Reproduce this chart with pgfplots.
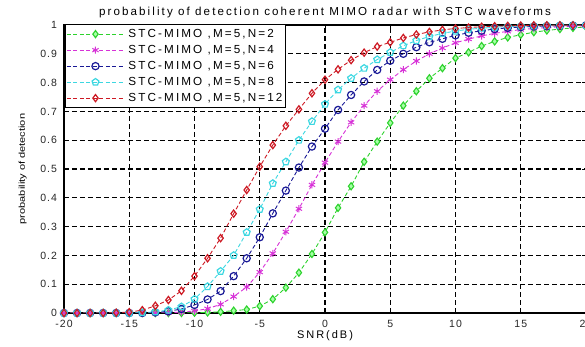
\documentclass[border=0pt]{standalone}
\usepackage{fontspec}
\usepackage{graphicx}
\setmainfont{Liberation Sans}[LetterSpace=18]
\newfontfamily\tickfont{Liberation Sans}[LetterSpace=10]
\newfontfamily\ylabfont{Liberation Sans}
\usepackage{pgfplots}
\usepackage{pgfplotstable}
\pgfplotsset{compat=1.18}
\definecolor{cgreen}{RGB}{45,210,45}
\definecolor{cmag}{RGB}{215,50,215}
\definecolor{cblue}{RGB}{25,25,150}
\definecolor{ccyan}{RGB}{60,215,225}
\definecolor{cred}{RGB}{205,25,35}
\pgfplotstableread{
x g m b c r
-20 0 0 0 0 0
-19 0 0 0 0 0
-18 0 0 0 0 0
-17 0 0 0 0 0
-16 0 0 0 0 0.001
-15 0 0 0 0 0.003
-14 0 0 0 0.001 0.010
-13 0 0 0.002 0.004 0.025
-12 0 0.001 0.006 0.010 0.045
-11 0 0.003 0.014 0.022 0.077
-10 0.001 0.007 0.028 0.048 0.128
-9 0.002 0.015 0.047 0.092 0.190
-8 0.004 0.030 0.076 0.145 0.260
-7 0.008 0.057 0.128 0.200 0.345
-6 0.012 0.090 0.190 0.280 0.427
-5 0.024 0.142 0.263 0.360 0.508
-4 0.048 0.207 0.346 0.450 0.583
-3 0.088 0.282 0.425 0.525 0.650
-2 0.140 0.362 0.505 0.600 0.707
-1 0.205 0.445 0.578 0.665 0.763
0 0.280 0.522 0.640 0.725 0.810
1 0.365 0.595 0.705 0.775 0.846
2 0.440 0.662 0.757 0.815 0.878
3 0.525 0.720 0.804 0.850 0.904
4 0.595 0.770 0.844 0.880 0.925
5 0.660 0.810 0.876 0.905 0.940
6 0.720 0.845 0.900 0.928 0.955
7 0.770 0.875 0.923 0.946 0.967
8 0.815 0.900 0.940 0.960 0.976
9 0.850 0.920 0.952 0.971 0.983
10 0.885 0.938 0.964 0.979 0.988
11 0.905 0.951 0.973 0.985 0.991
12 0.927 0.962 0.980 0.989 0.994
13 0.943 0.971 0.986 0.992 0.996
14 0.957 0.978 0.990 0.995 0.997
15 0.966 0.984 0.993 0.996 0.998
16 0.975 0.988 0.995 0.997 0.999
17 0.981 0.991 0.996 0.998 0.999
18 0.986 0.994 0.997 0.999 0.999
19 0.990 0.996 0.998 0.999 0.999
20 0.993 0.997 0.999 0.999 0.999
}\datatable
\begin{document}
\begin{tikzpicture}
\begin{axis}[
  at={(0,0)}, anchor=south west,
  scale only axis, width=522bp, height=288bp,
  xmin=-20, xmax=20, ymin=0, ymax=1,
  xtick={-20,-15,-10,-5,0,5,10,15,20},
  xticklabels={-20,-15,-10,-5,0,5,10,15,20},
  ytick={0,0.1,0.2,0.3,0.4,0.5,0.6,0.7,0.8,0.9,1},
  yticklabels={0,0.1,0.2,0.3,0.4,0.5,0.6,0.7,0.8,0.9,1},
  tick align=inside, major tick length=4bp,
  tick style={black, line width=0.8bp},
  ticklabel style={font=\tickfont\fontsize{10.5bp}{12bp}\selectfont, text=black!85},
  yticklabel style={xshift=-3.5bp},
  xticklabel style={yshift=-3.5bp},
  grid=major,
  major grid style={black, line width=1.1bp, dash pattern=on 5bp off 3bp},
  axis line style={black, line width=1.2bp},
  title={probability of detection coherent MIMO radar with STC waveforms},
  every axis title/.style={at={(axis description cs:0.5,1)}, anchor=base, yshift=9bp, font=\fontsize{11.6bp}{13bp}\selectfont},
  xlabel={SNR(dB)},
  xlabel style={font=\fontsize{11bp}{12bp}\selectfont, at={(axis description cs:0.5,-0.08)}, anchor=center},
  ylabel={\scalebox{1.3}[1]{\ylabfont\fontsize{8.5bp}{10bp}\selectfont probability of detection}},
  ylabel style={at={(axis description cs:-0.079,0.5)}, anchor=center},
  legend cell align=left,
  legend image code/.code={\draw[mark repeat=2,mark phase=2] plot coordinates {(0bp,0bp)(28.5bp,0bp)(57bp,0bp)};},
  legend style={at={(axis description cs:0.002,1.003)}, anchor=north west, draw=black, line width=1bp, fill=white,
    font=\fontsize{11.7bp}{13bp}\selectfont, inner xsep=1bp, inner ysep=3.5bp, row sep=4bp, column sep=1.5bp,
    nodes={inner xsep=2.5bp, inner ysep=0bp, text height=9bp, text depth=3bp}},
  every axis plot/.append style={line width=0.9bp, dash pattern=on 4bp off 2.5bp, mark size=3.6bp},
]
\addplot[color=cgreen, mark=diamond*, mark options={solid, fill=green!35, line width=1.1bp}] table[x=x,y=g]{\datatable};
\addlegendentry{STC-MIMO ,M=5,N=2}
\addplot[color=cmag, mark=asterisk, mark options={solid, line width=1bp}] table[x=x,y=m]{\datatable};
\addlegendentry{STC-MIMO ,M=5,N=4}
\addplot[color=cblue, mark=o, mark options={solid, line width=1.2bp}] table[x=x,y=b]{\datatable};
\addlegendentry{STC-MIMO ,M=5,N=6}
\addplot[color=ccyan, mark=pentagon, mark options={solid, line width=1.2bp}] table[x=x,y=c]{\datatable};
\addlegendentry{STC-MIMO ,M=5,N=8}
\addplot[color=cred, mark=diamond, mark options={solid, line width=1.2bp}] table[x=x,y=r]{\datatable};
\addlegendentry{STC-MIMO ,M=5,N=12}
\end{axis}
\pgfresetboundingbox
\useasboundingbox (-64bp,-34bp) rectangle (521bp,313bp);
\end{tikzpicture}
\end{document}
